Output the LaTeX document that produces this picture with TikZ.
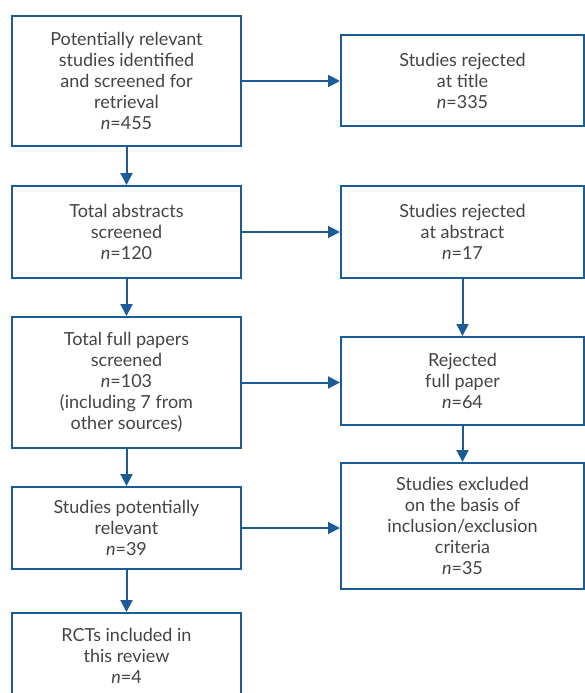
\documentclass[tikz,border=0pt]{standalone}
\usepackage{fontspec}
\setmainfont{Lato}
\usetikzlibrary{arrows.meta,positioning}
\definecolor{fblue}{HTML}{1B5C98}
\definecolor{ftext}{HTML}{444444}
\tikzset{
  stage/.style={draw=fblue,line width=2pt,fill=white,align=center,text=ftext,font=\fontsize{18}{21}\selectfont,inner sep=0pt},
  lbox/.style={stage,minimum width=229pt},
  rbox/.style={stage,minimum width=243pt},
  arr/.style={-{Triangle[length=12pt,width=12pt]},line width=2pt,draw=fblue},
}
\begin{document}
\begin{tikzpicture}[x=1pt,y=-1pt]
  \useasboundingbox (0,0) rectangle (585,693);
  % left column
  \node[lbox,minimum height=130pt] (ident) at (126.5,81) {Potentially relevant\\studies identified\\and screened for\\retrieval\\\textit{n}=455};
  \node[lbox,minimum height=92pt] (abstr) at (126.5,232) {Total abstracts\\screened\\\textit{n}=120};
  \node[lbox,minimum height=131pt] (full) at (126.5,382.5) {Total full papers\\screened\\\textit{n}=103\\(including 7 from\\other sources)};
  \node[lbox,minimum height=82pt] (relev) at (126.5,528) {Studies potentially\\relevant\\\textit{n}=39};
  \node[lbox,minimum height=86pt] (rcts) at (126.5,656) {RCTs included in\\this review\\\textit{n}=4};
  % right column
  \node[rbox,minimum height=91pt] (rtitle) at (462.5,80.5) {Studies rejected\\at title\\\textit{n}=335};
  \node[rbox,minimum height=92pt] (rabstr) at (462.5,232) {Studies rejected\\at abstract\\\textit{n}=17};
  \node[rbox,minimum height=88pt] (rfull) at (462.5,381) {Rejected\\full paper\\\textit{n}=64};
  \node[rbox,minimum height=126pt] (rcrit) at (462.5,526) {Studies excluded\\on the basis of\\inclusion/exclusion\\criteria\\\textit{n}=35};
  % arrows
  \draw[arr] (ident) -- (abstr);
  \draw[arr] (abstr) -- (full);
  \draw[arr] (full) -- (relev);
  \draw[arr] (relev) -- (rcts);
  \draw[arr] (rabstr) -- (rfull);
  \draw[arr] (rfull) -- (rcrit);
  \draw[arr] (ident.east) -- (ident.east -| rtitle.west);
  \draw[arr] (abstr.east) -- (abstr.east -| rabstr.west);
  \draw[arr] (full.east) -- (full.east -| rfull.west);
  \draw[arr] (relev.east) -- (relev.east -| rcrit.west);
\end{tikzpicture}
\end{document}
